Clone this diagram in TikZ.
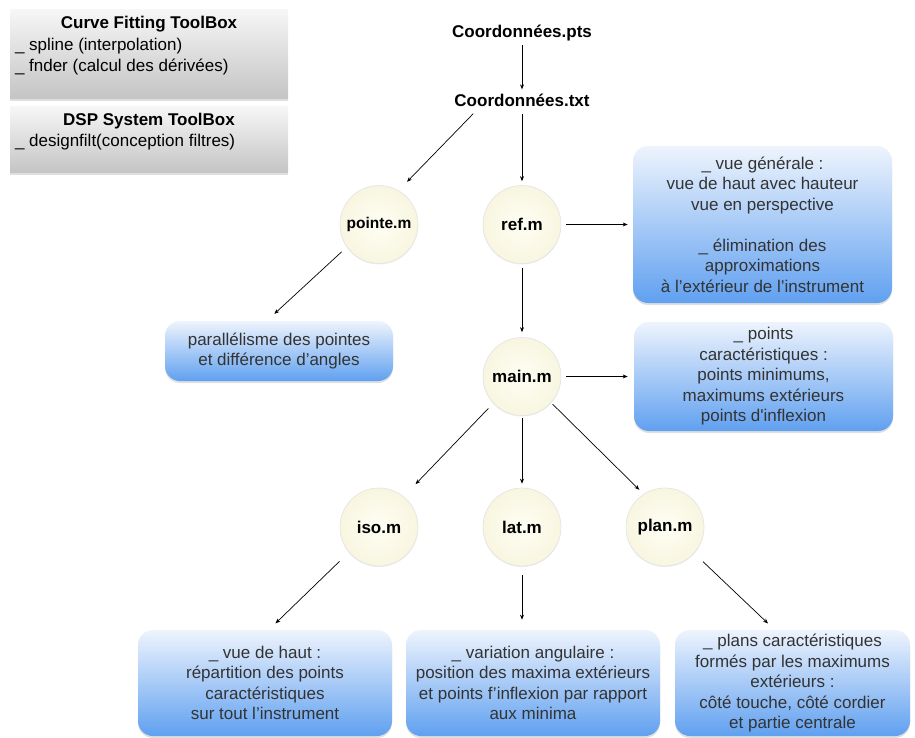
\documentclass[tikz,border=0pt]{standalone}
\usepackage{fontspec}
\setmainfont{Liberation Sans}
\usepackage{tikz}
\usetikzlibrary{arrows.meta, calc, positioning, shadows}

\definecolor{grishaut}{HTML}{F6F6F6}
\definecolor{grisbas}{HTML}{C4C4C4}
\definecolor{bleuhaut}{HTML}{EEF4FD}
\definecolor{bleubas}{HTML}{60A0F0}
\definecolor{creme}{HTML}{FEFEF4}
\definecolor{cremebord}{HTML}{F8F6E0}
\definecolor{texte}{HTML}{333333}

\newcommand{\corps}{\fontsize{17}{20.5}\selectfont}

\begin{document}
\begin{tikzpicture}[x=1pt, y=-1pt,
		outil/.style={rectangle, top color=grishaut, bottom color=grisbas, minimum width=278pt, inner sep=0pt,
			drop shadow={shadow xshift=0pt, shadow yshift=-2pt, opacity=0.25}},
		titre/.style={font=\bfseries\corps, inner sep=1pt},
		liste/.style={font=\corps, align=left, inner sep=1pt},
		fichier/.style={font=\bfseries\corps, inner sep=2pt},
		module/.style={circle, minimum size=78pt, inner sep=0pt, inner color=creme, outer color=cremebord,
			draw=black!10, font=\bfseries\corps,
			drop shadow={shadow xshift=0pt, shadow yshift=-1pt, opacity=0.15}},
		bulle/.style={rectangle, rounded corners=15pt, top color=bleuhaut, bottom color=bleubas, align=center,
			font=\corps, text=texte, inner sep=3pt,
			drop shadow={shadow xshift=0pt, shadow yshift=-2pt, opacity=0.25}},
		->, >={Stealth[length=5pt, width=4pt]}, line width=0.7pt
		]
	
		\useasboundingbox (0,0) rectangle (915,738);
	
		% --- Boîtes à outils (en haut à gauche) ---
		\node[outil, minimum height=89pt] (cft) at (149,54.5) {};
		\node[titre, below=5pt of cft.north] (cfttitre) {Curve Fitting ToolBox};
		\node[liste, anchor=north west] (cftliste) at ([xshift=4pt, yshift=-4pt]cfttitre.south -| cft.west)
			{\_ spline (interpolation)\\ \_ fnder (calcul des dérivées)};
	
		\node[outil, minimum height=66pt] (dsp) at (149,140) {};
		\node[titre, below=5pt of dsp.north] (dsptitre) {DSP System ToolBox};
		\node[liste, anchor=north west] (dspliste) at ([xshift=4pt, yshift=-3pt]dsptitre.south -| dsp.west)
			{\_ designfilt(conception filtres)};
	
		% --- Fichiers ---
		\node[fichier] (pts) at (522,33) {Coordonnées.pts};
		\node[fichier] (txt) at (522,100) {Coordonnées.txt};
	
		% --- Scripts ---
		\node[module, font=\bfseries\fontsize{15.5}{18}\selectfont] (pointe) at (379,224.5) {pointe.m};
		\node[module] (ref) at (522,224.5) {ref.m};
		\node[module] (main) at (522,376.5) {main.m};
		\node[module] (iso) at (379,527) {iso.m};
		\node[module] (lat) at (522,527) {lat.m};
		\node[module] (plan) at (665,527) {plan.m};
	
		% --- Résultats ---
		\node[bulle, minimum width=259pt, minimum height=157pt] (vue) at (762.5,224.5)
			{\_ vue générale :\\ vue de haut avec hauteur\\ vue en perspective\\[20.5pt]
			 \_ élimination des\\ approximations\\ à l’extérieur de l’instrument};
		\node[bulle, minimum width=259pt, minimum height=109pt] (carac) at (763.5,376.5)
			{\_ points\\ caractéristiques :\\ points minimums,\\ maximums extérieurs\\ points d\textquotesingle inflexion};
		\node[bulle, minimum width=228pt, minimum height=60pt] (para) at (279,351)
			{parallélisme des pointes\\ et différence d’angles};
		\node[bulle, minimum width=254pt, minimum height=106pt] (haut) at (265,683)
			{\_ vue de haut :\\ répartition des points\\ caractéristiques\\ sur tout l’instrument};
		\node[bulle, minimum width=254pt, minimum height=106pt] (angul) at (533,683)
			{\_ variation angulaire :\\ position des maxima extérieurs\\ et points f’inflexion par rapport\\ aux minima};
		\node[bulle, minimum width=235pt, minimum height=106pt] (plans) at (792.5,683)
			{\_ plans caractéristiques\\ formés par les maximums\\ extérieurs :\\ côté touche, côté cordier\\ et partie centrale};
	
		% Flèches
		\draw[shorten <=2pt, shorten >=2pt] (pts) -- (txt);
		\draw[shorten <=7pt, shorten >=12pt] ([xshift=26pt]txt.south west) -- (pointe.60);
		\draw[shorten <=5pt, shorten >=4pt] (txt) -- (ref);
		\draw[shorten <=5pt, shorten >=5pt] (ref) -- (vue);
		\draw[shorten <=4pt, shorten >=5pt] (ref) -- (main);
		\draw[shorten <=7pt, shorten >=10pt] (pointe.215) -- ([xshift=-12pt]para.north);
		\draw[shorten <=5pt, shorten >=6pt] (main) -- (carac);
		\draw[shorten <=7pt, shorten >=17pt] (main.223) -- (iso.51);
		\draw[shorten <=2pt, shorten >=4pt] (main) -- (lat);
		\draw[shorten <=2pt, shorten >=6pt] (main.-42) -- (plan.123);
		\draw[shorten <=13pt, shorten >=9pt] (iso.220) -- ([xshift=4pt]haut.north);
		\draw[shorten <=9pt, shorten >=10pt] (lat) -- (lat |- angul.north);
		\draw[shorten <=12pt, shorten >=9pt] (plan.-42) -- ([xshift=-18pt]plans.north);
	
	\end{tikzpicture}
\end{document}
